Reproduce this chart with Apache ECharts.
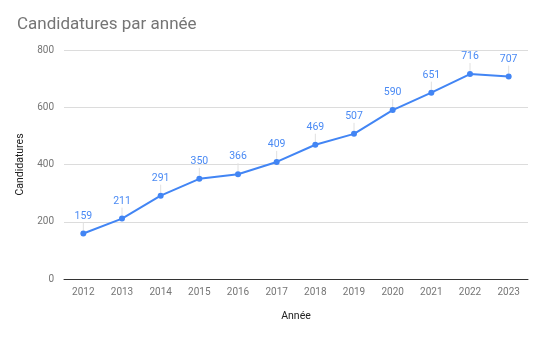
<!DOCTYPE html>
<html><head><meta charset="utf-8">
<script src="https://cdn.jsdelivr.net/npm/echarts@6/dist/echarts.min.js"></script>
<style>html,body{margin:0;padding:0;background:#fff}#c{width:546px;height:338px}</style>
</head><body><div id="c"></div>
<script>
const years = ['2012','2013','2014','2015','2016','2017','2018','2019','2020','2021','2022','2023'];
const candidatures = [159,211,291,350,366,409,469,507,590,651,716,707];
const yTicks = [0,200,400,600,800];

const chart = echarts.init(document.getElementById('c'), null, {renderer:'canvas'});
chart.setOption({
  animation:false,
  backgroundColor:'#fff',
  title:{text:'Candidatures par année',left:12,top:11,textStyle:{fontFamily:'Roboto',fontSize:17,fontWeight:'normal',color:'#757575'}},
  grid:{left:64,right:18,top:50,bottom:59},
  xAxis:{type:'category',data:years,boundaryGap:true,
    name:'Année',nameLocation:'middle',nameGap:32,
    nameTextStyle:{fontFamily:'Roboto',fontSize:10.5,color:'#222'},
    axisLine:{lineStyle:{color:'#333',width:1}},axisTick:{show:false},
    axisLabel:{fontFamily:'Roboto',fontSize:10,color:'#757575',margin:8}},
  yAxis:{type:'value',min:yTicks[0],max:yTicks[yTicks.length-1],interval:200,
    name:'Candidatures',nameLocation:'middle',nameGap:37,
    nameTextStyle:{fontFamily:'Roboto',fontSize:10.5,color:'#222'},
    axisLine:{show:false},axisTick:{show:false},
    axisLabel:{fontFamily:'Roboto',fontSize:10,color:'#757575',margin:10},
    splitLine:{lineStyle:{color:'#dcdcdc',width:1}}},
  series:[
    {type:'custom',silent:true,z:1,
      renderItem:function(params,api){
        const p=api.coord([api.value(0),api.value(1)]);
        return {type:'line',shape:{x1:p[0],y1:p[1]-3,x2:p[0],y2:p[1]-11},style:{stroke:'#e0e0e0',lineWidth:1}};
      },
      data:candidatures.map((v,i)=>[i,v])},
    {type:'line',data:candidatures,z:3,symbol:'circle',symbolSize:6,
      lineStyle:{color:'#4285F4',width:2},itemStyle:{color:'#4285F4'},
      label:{show:true,position:'top',distance:9,fontFamily:'Roboto',fontSize:10.5,color:'#4a8af4'}}
  ]
});
</script></body></html>
